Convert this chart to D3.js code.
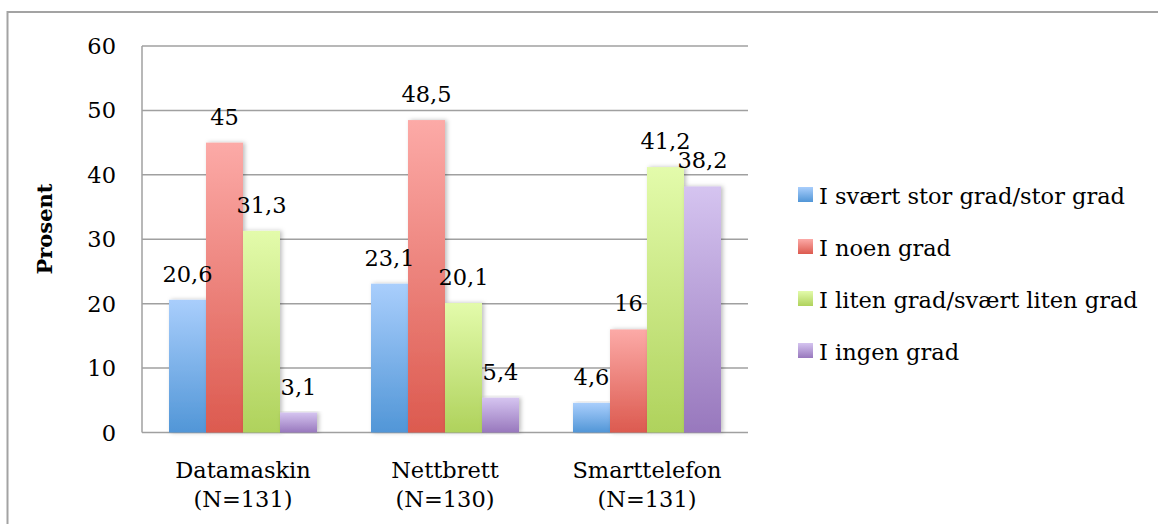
<!DOCTYPE html>
<html>
<head>
<meta charset="utf-8">
<script src="https://cdn.jsdelivr.net/npm/d3@7"></script>
<style>
  body { margin: 0; background: #fff; }
</style>
</head>
<body>
<div id="container"></div>
<script>
const width = 1158;
const height = 524;

const categories = ["Datamaskin", "Nettbrett", "Smarttelefon"];
const categoryN = ["(N=131)", "(N=130)", "(N=131)"];
const seriesNames = ["I svært stor grad/stor grad", "I noen grad", "I liten grad/svært liten grad", "I ingen grad"];
const datamaskin = [20.6, 45, 31.3, 3.1];
const nettbrett = [23.1, 48.5, 20.1, 5.4];
const smarttelefon = [4.6, 16, 41.2, 38.2];
const yTicks = [0, 10, 20, 30, 40, 50, 60];

const gradTop = ["#a9cefc", "#fcaaa7", "#e3fbab", "#d5c4f0"];
const gradBottom = ["#5196d7", "#dc5a4f", "#afd25c", "#9878bd"];

const values = [datamaskin, nettbrett, smarttelefon];
const fmt = v => String(v).replace(".", ",");
const fontSize = "22.5px";

const svg = d3.select("#container")
              .append("svg")
              .attr("width", width)
              .attr("height", height)
              .attr("font-family", "'DejaVu Serif', serif")
              .attr("fill", "#000");

// outer frame (runs off the right and bottom edges)
svg.append("rect")
   .attr("x", 7.5)
   .attr("y", 12)
   .attr("width", 1200)
   .attr("height", 600)
   .attr("fill", "none")
   .attr("stroke", "#a3a3a3")
   .attr("stroke-width", 2);

const defs = svg.append("defs");
seriesNames.forEach((s, i) => {
  const g = defs.append("linearGradient")
                .attr("id", "grad" + i)
                .attr("x1", 0).attr("y1", 0)
                .attr("x2", 0).attr("y2", 1);
  g.append("stop").attr("offset", "0%").attr("stop-color", gradTop[i]);
  g.append("stop").attr("offset", "100%").attr("stop-color", gradBottom[i]);
});
const shadow = defs.append("filter")
                   .attr("id", "shadow")
                   .attr("x", "-20%").attr("y", "-5%")
                   .attr("width", "150%").attr("height", "110%");
shadow.append("feDropShadow")
      .attr("dx", 2).attr("dy", 0)
      .attr("stdDeviation", 2)
      .attr("flood-color", "#000")
      .attr("flood-opacity", 0.25);

const plotLeft = 142;
const plotRight = 748;
const plotTop = 46;
const plotBottom = 432.5;

const y = d3.scaleLinear().domain([0, 60]).range([plotBottom, plotTop]);
const x0 = d3.scaleBand().domain(categories).range([plotLeft, plotRight]);
const x1 = d3.scaleBand().domain(seriesNames).range([27, x0.bandwidth() - 27]);

// gridlines
svg.append("g")
   .selectAll("line")
   .data(yTicks)
   .enter()
   .append("line")
   .attr("x1", plotLeft)
   .attr("x2", plotRight)
   .attr("y1", d => y(d))
   .attr("y2", d => y(d))
   .attr("stroke", "#a0a0a0")
   .attr("stroke-width", 1.5);

// y axis line
svg.append("line")
   .attr("x1", plotLeft).attr("x2", plotLeft)
   .attr("y1", plotTop).attr("y2", plotBottom)
   .attr("stroke", "#a0a0a0")
   .attr("stroke-width", 1.5);

// y tick labels
svg.append("g")
   .selectAll("text")
   .data(yTicks)
   .enter()
   .append("text")
   .attr("x", 116)
   .attr("y", d => y(d) + 8)
   .attr("text-anchor", "end")
   .style("font-size", fontSize)
   .text(d => d);

svg.append("text")
   .attr("transform", "translate(52," + 229 + ") rotate(-90)")
   .attr("text-anchor", "middle")
   .style("font-size", "21px")
   .style("font-weight", "bold")
   .text("Prosent");

// bars
const group = svg.selectAll("g.cat")
                 .data(categories)
                 .enter()
                 .append("g")
                 .attr("class", "cat")
                 .attr("transform", d => "translate(" + x0(d) + ",0)");

group.selectAll("rect")
     .data((d, i) => values[i].map((v, j) => ({ name: seriesNames[j], value: v, idx: j })))
     .enter()
     .append("rect")
     .attr("x", d => x1(d.name))
     .attr("y", d => y(d.value))
     .attr("width", x1.bandwidth())
     .attr("height", d => plotBottom - y(d.value))
     .attr("fill", d => "url(#grad" + d.idx + ")")
     .attr("filter", "url(#shadow)");

group.selectAll("text.val")
     .data((d, i) => values[i].map((v, j) => ({ name: seriesNames[j], value: v })))
     .enter()
     .append("text")
     .attr("class", "val")
     .attr("x", d => x1(d.name) + x1.bandwidth() / 2)
     .attr("y", d => y(d.value) - 18)
     .attr("text-anchor", "middle")
     .style("font-size", fontSize)
     .text(d => fmt(d.value));

// category labels
group.append("text")
     .attr("x", x0.bandwidth() / 2)
     .attr("y", 478)
     .attr("text-anchor", "middle")
     .style("font-size", fontSize)
     .text(d => d);
group.append("text")
     .attr("x", x0.bandwidth() / 2)
     .attr("y", 507)
     .attr("text-anchor", "middle")
     .style("font-size", fontSize)
     .text((d, i) => categoryN[i]);

// legend
const legend = svg.append("g")
                  .selectAll("g")
                  .data(seriesNames)
                  .enter()
                  .append("g")
                  .attr("transform", (d, i) => "translate(798," + (187 + i * 52) + ")");
legend.append("rect")
      .attr("width", 15)
      .attr("height", 15)
      .attr("fill", (d, i) => "url(#grad" + i + ")");
legend.append("text")
      .attr("x", 21)
      .attr("y", 17)
      .style("font-size", fontSize)
      .text(d => d);
</script>
</body>
</html>
